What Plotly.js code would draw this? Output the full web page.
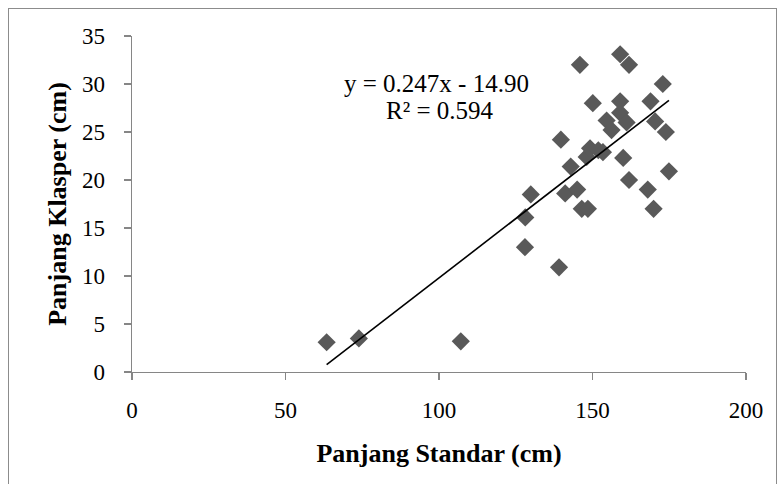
<!DOCTYPE html>
<html>
<head>
<meta charset="utf-8">
<script src="https://cdn.plot.ly/plotly-3.0.1.min.js"></script>
<style>
  html, body { margin: 0; padding: 0; background: #fff; }
  #wrap { position: relative; width: 783px; height: 484px; overflow: hidden; }
  #chart { position: absolute; left: 0; top: 0; width: 783px; height: 484px; }
  #frame { position: absolute; left: 8px; top: 8px; width: 767px; height: 490px; border: 1px solid #8c8c8c; pointer-events: none; }
</style>
</head>
<body>
<div id="wrap">
  <div id="chart"></div>
  <div id="frame"></div>
</div>
<script>
// Panjang Standar (cm)
const panjangStandar = [
  63.4, 73.9, 107.1, 128.0, 128.1, 129.9, 139.1, 141.1, 145.0, 146.5,
  148.5, 161.9, 168.0, 169.9, 174.9, 142.9, 148.1, 149.2, 151.9, 153.4,
  160.0, 139.7, 154.6, 156.2, 159.0, 161.1, 170.4, 173.9, 150.1, 159.0,
  168.9, 172.9, 145.9, 159.0, 161.9
];
// Panjang Klasper (cm)
const panjangKlasper = [
  3.1, 3.5, 3.2, 13.0, 16.1, 18.5, 10.9, 18.6, 19.0, 17.0,
  17.0, 20.0, 19.0, 17.0, 20.9, 21.4, 22.4, 23.3, 23.1, 22.9,
  22.3, 24.2, 26.2, 25.2, 27.0, 26.0, 26.1, 25.0, 28.0, 28.2,
  28.2, 30.0, 32.0, 33.1, 32.0
];
// Linear trendline reported on the chart
const trendSlope = 0.247;
const trendIntercept = -14.90;
const rSquared = 0.594;
const xTicks = [0, 50, 100, 150, 200];
const yTicks = [0, 5, 10, 15, 20, 25, 30, 35];

const xMin = Math.min(...panjangStandar);
const xMax = Math.max(...panjangStandar);
const trendX = [xMin, xMax];
const trendY = trendX.map(v => trendSlope * v + trendIntercept);

const serif = '"Liberation Serif", "Times New Roman", serif';

const traces = [
  {
    type: 'scatter', mode: 'markers',
    x: panjangStandar, y: panjangKlasper,
    marker: { symbol: 'diamond', size: 14, color: '#595959', line: { width: 0 } },
    hoverinfo: 'x+y', showlegend: false
  },
  {
    type: 'scatter', mode: 'lines',
    x: trendX, y: trendY,
    line: { color: '#000000', width: 1.6 },
    hoverinfo: 'skip', showlegend: false
  }
];

const eqText = 'y = ' + trendSlope.toFixed(3) + 'x - ' + Math.abs(trendIntercept).toFixed(2);
const r2Text = 'R² = ' + rSquared.toFixed(3);

const layout = {
  width: 783, height: 484,
  margin: { l: 132, r: 37, t: 36, b: 112 },
  paper_bgcolor: '#ffffff', plot_bgcolor: '#ffffff',
  showlegend: false,
  font: { family: serif, size: 23, color: '#000000' },
  xaxis: {
    range: [0, 200], tickvals: xTicks, ticktext: xTicks.map(String),
    showgrid: false, zeroline: false,
    showline: true, linecolor: '#868686', linewidth: 1.3,
    ticks: 'outside', ticklen: 7, tickwidth: 1.3, tickcolor: '#868686',
    tickfont: { family: serif, size: 23, color: '#000' },
    ticklabelstandoff: 10,
    title: { text: '<b>Panjang Standar (cm)</b>', font: { family: serif, size: 26, color: '#000' }, standoff: 22 },
    fixedrange: true
  },
  yaxis: {
    range: [0, 35], tickvals: yTicks, ticktext: yTicks.map(String),
    showgrid: false, zeroline: false,
    showline: true, linecolor: '#868686', linewidth: 1.3,
    ticks: 'outside', ticklen: 7, tickwidth: 1.3, tickcolor: '#868686',
    tickfont: { family: serif, size: 23, color: '#000' },
    ticklabelstandoff: 14,
    title: { text: '<b>Panjang Klasper (cm)</b>', font: { family: serif, size: 26, color: '#000' }, standoff: 8 },
    fixedrange: true
  },
  annotations: [
    {
      xref: 'x', yref: 'y', x: 99.2, y: 30.1, text: eqText,
      showarrow: false, align: 'center',
      font: { family: serif, size: 25, color: '#000' }
    },
    {
      xref: 'x', yref: 'y', x: 100.2, y: 27.2, text: r2Text,
      showarrow: false, align: 'center',
      font: { family: serif, size: 25, color: '#000' }
    }
  ]
};

Plotly.newPlot('chart', traces, layout, { displayModeBar: false, staticPlot: true });
</script>
</body>
</html>
